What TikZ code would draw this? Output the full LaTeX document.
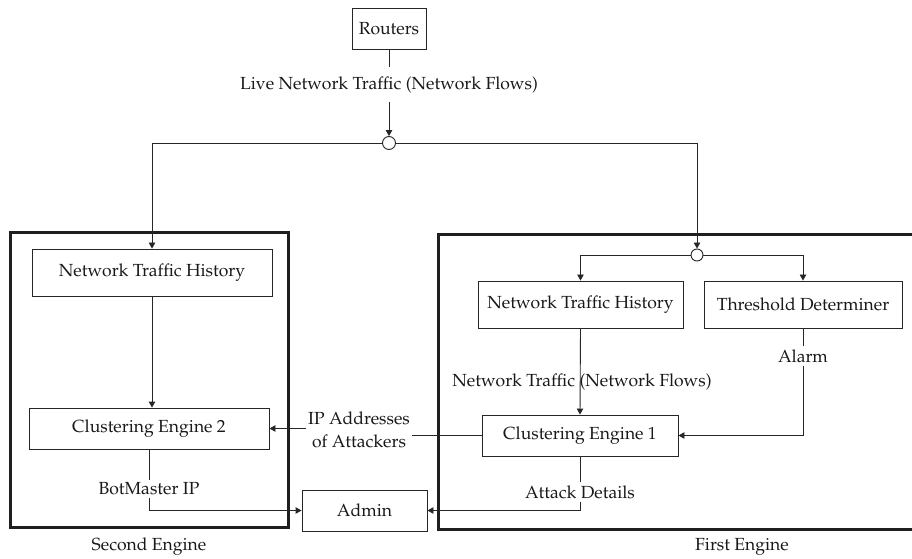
\documentclass[tikz,border=0pt]{standalone}
\usepackage[T1]{fontenc}
\renewcommand{\rmdefault}{ppl}
\usetikzlibrary{arrows.meta}
\tikzset{
  every picture/.style={x=1bp,y=-1bp},
  base/.style={font=\fontsize{17.6}{21}\selectfont, text=black!90},
  blk/.style={base, draw=black!85, line width=0.9bp, inner sep=0pt, minimum height=41bp},
  lbl/.style={base, inner ysep=3bp, inner xsep=1.5bp},
  junc/.style={circle, draw=black!85, fill=white, line width=0.9bp, minimum size=13bp, inner sep=0pt},
  frame/.style={draw=black!88, line width=3bp},
  wire/.style={draw=black!85, line width=0.9bp},
  flow/.style={wire, -{Triangle[length=6bp,width=6.5bp]}},
}
\begin{document}
\begin{tikzpicture}
\clip (0,0) rectangle (912,559);
\useasboundingbox (0,0) rectangle (912,559);

% engine frames
\draw[frame] (10,233) rectangle (288,527);
\draw[frame] (438,235) rectangle (925,529);
\node[base] (second) at (149,547) {Second Engine};
\node[base] (first) at (742,547) {First Engine};

% source of traffic
\node[blk, minimum width=74bp] (routers) at (389,28.5) {Routers};
\node[lbl, inner ysep=9bp] (live) at (389,84.5) {Live Network Traffic (Network Flows)};
\node[junc] (j1) at (389,143) {};

% second engine
\node[blk, minimum width=240bp, minimum height=47bp] (histL) at (152,272.5) {Network Traffic History};
\node[blk, minimum width=240bp] (ce2) at (149,428.5) {Clustering Engine 2};
\node[lbl] (bot) at (149,489) {BotMaster IP};

% first engine
\node[junc, minimum size=12bp] (j2) at (697,255) {};
\node[blk, minimum width=205bp, minimum height=47bp] (histR) at (580.5,304.5) {Network Traffic History};
\node[blk, minimum width=198bp, minimum height=47bp] (thr) at (803,304.5) {Threshold Determiner};
\node[blk, minimum width=196bp] (ce1) at (580,435.5) {Clustering Engine 1};
\node[lbl] (alarm) at (803,356) {Alarm};
\node[lbl] (att) at (580,492) {Attack Details};

% shared
\node[blk, minimum width=125bp] (admin) at (364.5,510.5) {Admin};
\node[lbl, align=center, font=\fontsize{17.6}{23}\selectfont] (ip) at (359,430) {IP Addresses\\of Attackers};

% traffic distribution
\draw[wire] (routers.south) -- (live.north);
\draw[flow] (live.south) -- (j1.north);
\draw[flow] (j1.west) -| (histL.north);
\draw[flow] (j1.east) -| (j2.north);
\draw[flow] (j2.west) -| (histR.north);
\draw[flow] (j2.east) -| (thr.north);

% second engine flow
\draw[flow] (histL.south) -- (histL.south |- ce2.north);
\draw[wire] (ce2.south) -- (bot.north);
\draw[flow] (bot.south) |- (admin.west);

% first engine flow
\draw[flow] (histR.south) -- (ce1.north);
\node[lbl] (nf) at (582,382) {Network Traffic (Network Flows)};
\draw[wire] (thr.south) -- (alarm.north);
\draw[flow] (alarm.south) |- (ce1.east);
\draw[wire] (ce1.south) -- (att.north);
\draw[flow] (att.south) |- (admin.east);

% attacker addresses passed to the second engine
\draw[wire] (ce1.west) -- (ip.east |- ce1.west);
\draw[flow] (ip.west |- ce2.east) -- (ce2.east);
\end{tikzpicture}
\end{document}
